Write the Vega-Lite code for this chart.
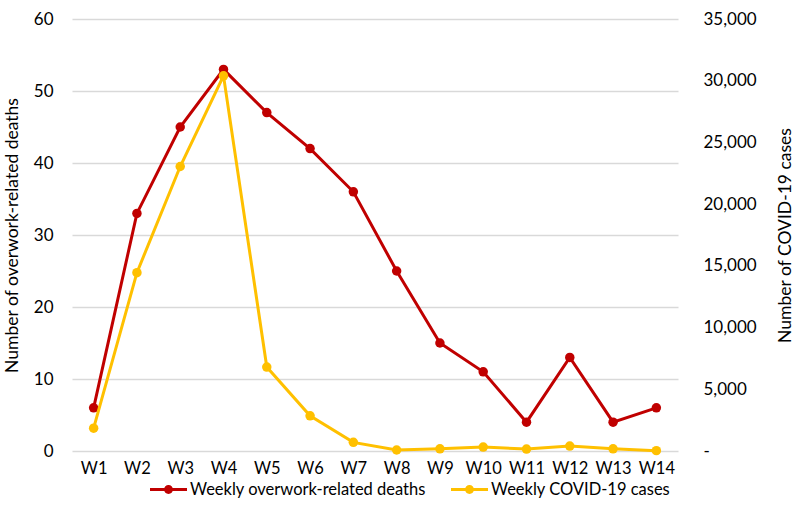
{
  "$schema": "https://vega.github.io/schema/vega-lite/v6.json",
  "width": 606,
  "height": 432,
  "autosize": {"type": "none"},
  "padding": {"left": 72, "top": 19, "right": 122, "bottom": 63},
  "background": "white",
  "config": {
    "font": "Lato",
    "view": {"stroke": null},
    "axis": {"labelFont": "Lato", "titleFont": "Lato", "labelColor": "#000000", "titleColor": "#000000", "labelFontSize": 17, "titleFontSize": 17.5, "titleFontWeight": "normal"}
  },
  "data": {"values": [
    {"week": "W1", "deaths": 6, "cases": 1850},
    {"week": "W2", "deaths": 33, "cases": 14450},
    {"week": "W3", "deaths": 45, "cases": 23050},
    {"week": "W4", "deaths": 53, "cases": 30400},
    {"week": "W5", "deaths": 47, "cases": 6800},
    {"week": "W6", "deaths": 42, "cases": 2850},
    {"week": "W7", "deaths": 36, "cases": 700},
    {"week": "W8", "deaths": 25, "cases": 80},
    {"week": "W9", "deaths": 15, "cases": 180},
    {"week": "W10", "deaths": 11, "cases": 320},
    {"week": "W11", "deaths": 4, "cases": 160},
    {"week": "W12", "deaths": 13, "cases": 400},
    {"week": "W13", "deaths": 4, "cases": 180},
    {"week": "W14", "deaths": 6, "cases": 30}
  ]},
  "encoding": {
    "x": {"field": "week", "type": "ordinal", "sort": null,
      "scale": {"paddingInner": 0, "paddingOuter": 0.5, "align": 0.5},
      "axis": {"title": null, "labelAngle": 0, "domain": false, "ticks": false, "labelPadding": 9, "grid": false, "labelFontSize": 16.5}}
  },
  "layer": [
    {
      "mark": {"type": "line", "strokeWidth": 3, "point": {"size": 90, "filled": true, "opacity": 1}},
      "encoding": {
        "y": {"field": "deaths", "type": "quantitative",
          "scale": {"domain": [0, 60], "nice": false},
          "axis": {"title": "Number of overwork-related deaths", "values": [0,10,20,30,40,50,60], "domain": false, "ticks": false, "grid": true, "gridColor": "#d9d9d9", "gridWidth": 1.3, "labelPadding": 19, "titlePadding": 12}},
        "color": {"datum": "Weekly overwork-related deaths", "type": "nominal",
          "scale": {"domain": ["Weekly overwork-related deaths", "Weekly COVID-19 cases"], "range": ["#C00000", "#FFC000"]},
          "legend": {"title": null, "orient": "none", "direction": "horizontal", "legendX": 78, "legendY": 452,
            "symbolType": "M-1,-0.085L1,-0.085L1,0.085L-1,0.085Z M-0.24,0A0.24,0.24 0 1,1 0.24,0A0.24,0.24 0 1,1 -0.24,0Z",
            "symbolSize": 1369, "symbolStrokeWidth": 0, "labelFont": "Lato", "labelFontSize": 16.5, "labelColor": "#000000", "labelOffset": 3, "columnPadding": 25, "labelLimit": 400,
            "encode": {"symbols": {"update": {"fill": {"scale": "color", "field": "value"}, "fillOpacity": {"value": 1}, "strokeWidth": {"value": 0}}}}}}
      }
    },
    {
      "mark": {"type": "line", "strokeWidth": 3, "point": {"size": 90, "filled": true, "opacity": 1}},
      "encoding": {
        "y": {"field": "cases", "type": "quantitative",
          "scale": {"domain": [0, 35000], "nice": false},
          "axis": {"orient": "right", "title": "Number of COVID-19 cases", "values": [0,5000,10000,15000,20000,25000,30000,35000], "labelExpr": "datum.value == 0 ? '-' : format(datum.value, ',')", "domain": false, "ticks": false, "grid": false, "labelPadding": 25, "titleAngle": 270, "titleBaseline": "top", "titleX": 98, "titleY": 216, "titleAlign": "center"}},
        "color": {"datum": "Weekly COVID-19 cases", "type": "nominal"}
      }
    }
  ],
  "resolve": {"scale": {"y": "independent"}}
}
